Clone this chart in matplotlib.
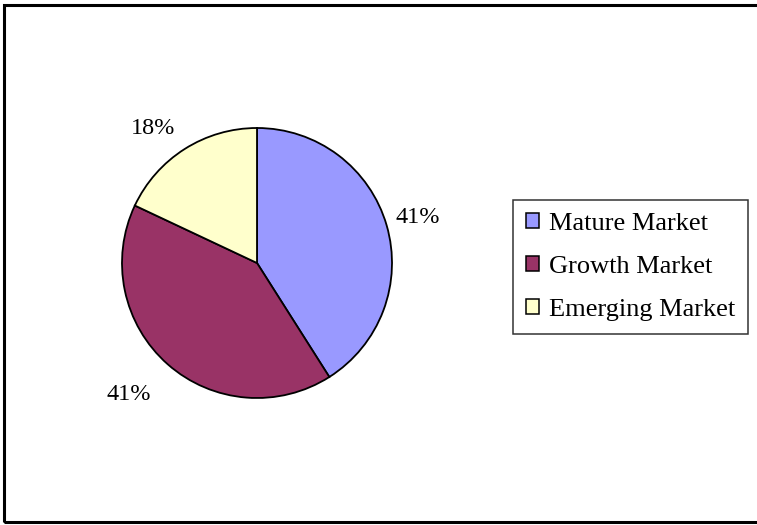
import numpy as np
import matplotlib.pyplot as plt
from matplotlib.patches import Rectangle

# market share by segment
segments = ["Mature Market", "Growth Market", "Emerging Market"]
shares = [41, 41, 18]
colors = ["#9999FF", "#993366", "#FFFFCC"]
label_dist = [1.07, 1.19, 1.133]

plt.rcParams["font.family"] = ["Liberation Serif", "DejaVu Serif"]

fig = plt.figure(figsize=(7.57, 5.25), dpi=100)
ax = fig.add_axes([0, 0, 1, 1])

wedges, _ = ax.pie(shares, colors=colors, startangle=90, counterclock=False,
                   radius=1, wedgeprops=dict(edgecolor="black", linewidth=1.3))

# pie centre at (257, 263) px, radius 135 px
px = 135.0
ax.set_xlim(-257 / px, (757 - 257) / px)
ax.set_ylim(-(525 - 263) / px, 263 / px)
ax.set_aspect("auto")
ax.axis("off")

# percentage labels sit just outside the rim, anchored on the side facing the pie
for w, s, d in zip(wedges, shares, label_dist):
    mid = np.deg2rad((w.theta1 + w.theta2) / 2)
    cx, cy = np.cos(mid), np.sin(mid)
    ha = "left" if cx > 0 else "right"
    va = "baseline" if cy > 0 else "top"
    ax.text(d * cx, d * cy, f"{s}%", fontsize=17.5, ha=ha, va=va)

leg = fig.legend(wedges, segments, loc="upper left",
                 bbox_to_anchor=(513 / 757, 1 - 200 / 525), borderaxespad=0,
                 fontsize=19, frameon=True, fancybox=False, handlelength=0.5,
                 handleheight=0.5, handletextpad=0.38, labelspacing=0.8,
                 borderpad=0.48)
leg.get_frame().set_edgecolor("black")
leg.get_frame().set_linewidth(1.1)
for h in leg.legend_handles:
    h.set_edgecolor("black")
    h.set_linewidth(1.1)

# outer border (open on the right)
fig.add_artist(Rectangle((3.5 / 757, 3.5 / 525), 1.0, 1 - 8 / 525,
                         transform=fig.transFigure, fill=False,
                         edgecolor="black", linewidth=2.2))

fig.savefig("out.png", dpi=100)
